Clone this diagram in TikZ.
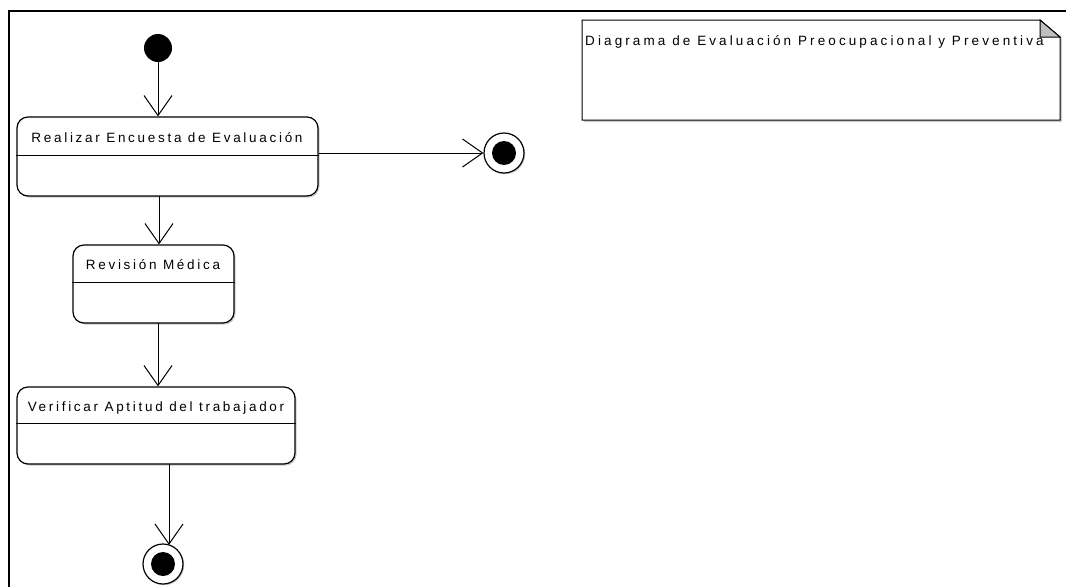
\documentclass[tikz,border=0pt]{standalone}
\usepackage{fontspec}
\newfontfamily\umlfont[LetterSpace=20]{Liberation Sans}
\newfontfamily\notefont[LetterSpace=23]{Liberation Sans}
\usetikzlibrary{arrows.meta,shadows,calc}
\tikzset{
  frameline/.style={line width=2pt, draw=black},
  statebox/.style={draw=black, line width=1.2pt, rounded corners=11pt, fill=white,
    drop shadow={shadow xshift=1.5pt, shadow yshift=-1.5pt, fill=black!35, opacity=0.6},
    inner sep=0pt},
  divider/.style={line width=1pt},
  lbl/.style={font=\umlfont\fontsize{13.5}{15}\selectfont, inner sep=0pt, anchor=base},
  notelbl/.style={font=\notefont\fontsize{13.5}{15}\selectfont, inner sep=0pt, anchor=base west},
  conn/.style={line width=1pt, -{Straight Barb[length=20pt, width=28pt, line width=1pt]}},
  initst/.style={circle, fill=black, minimum size=28pt, inner sep=0pt},
  finalring/.style={circle, draw=black, line width=1.2pt, fill=white, minimum size=40pt, inner sep=0pt,
    drop shadow={shadow xshift=1.2pt, shadow yshift=-1.2pt, fill=black!35, opacity=0.6}},
  finaldot/.style={circle, fill=black, minimum size=24pt, inner sep=0pt},
  notebox/.style={line width=1pt, draw=black, fill=white}
}
\begin{document}
\begin{tikzpicture}[x=1pt,y=-1pt]
\useasboundingbox (0,0) rectangle (1066,587);
\fill[white] (0,0) rectangle (1066,587);
% frame
\draw[frameline] (1066,11) -- (9,11) -- (9,587);

% initial state
\node[initst] (init) at (158,48) {};

% state 1
\node[statebox, minimum width=301pt, minimum height=79pt] (s1) at (167.5,156.5) {};
\draw[divider] (s1.west |- 0,155) -- (s1.east |- 0,155);
\node[lbl] (t1) at (167,142) {Realizar Encuesta de Evaluación};

% state 2
\node[statebox, minimum width=161pt, minimum height=78pt] (s2) at (153.5,284) {};
\draw[divider] (s2.west |- 0,282) -- (s2.east |- 0,282);
\node[lbl] (t2) at (153,269) {Revisión Médica};

% state 3
\node[statebox, minimum width=278pt, minimum height=77pt] (s3) at (156,425.5) {};
\draw[divider] (s3.west |- 0,423) -- (s3.east |- 0,423);
\node[lbl] (t3) at (156,411) {Verificar Aptitud del trabajador};

% final states
\node[finalring] (f1) at (504,153) {};
\node[finaldot] (f1d) at (f1) {};
\node[finalring] (f2) at (163,564) {};
\node[finaldot] (f2d) at (f2) {};

% note
\fill[black!30, opacity=0.6] (584,22) -- (1042,22) -- (1062,39) -- (1062,122) -- (584,122) -- cycle;
\draw[notebox] (582,20) -- (1040,20) -- (1060,37) -- (1060,120) -- (582,120) -- cycle;
\filldraw[fill=black!25, draw=black, line width=1pt] (1040,20) -- (1040,37) -- (1060,37) -- cycle;
\node[notelbl] (nt) at (585,45) {Diagrama de Evaluación Preocupacional y Preventiva};

% connectors
\draw[conn] (init) -- (s1.north -| init);
\coordinate (a1) at (159,196);
\draw[conn] (a1) -- (a1 |- s2.north);
\coordinate (a2) at (158,323);
\draw[conn] (a2) -- (a2 |- s3.north);
\draw[conn] (s1.east |- f1) -- (f1.west);
\coordinate (a3) at (169,464);
\draw[conn] (a3) -- ($(a3 |- f2.north)+(0,1.5)$);
\end{tikzpicture}
\end{document}
